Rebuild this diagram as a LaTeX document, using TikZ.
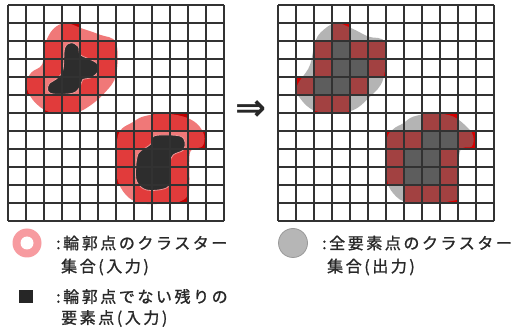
\documentclass[tikz,border=0pt]{standalone}
\usepackage{fontspec}
\newfontfamily\jpfont[LetterSpace=16,FakeBold=1.2]{Noto Sans CJK JP}
\newfontfamily\symfont{DejaVu Sans}
\definecolor{cellredL}{RGB}{192,0,0}
\definecolor{cellredR}{RGB}{215,0,0}
\definecolor{pinkblob}{RGB}{236,78,78}
\definecolor{darkblob}{RGB}{45,45,45}
\definecolor{blobline}{RGB}{240,150,150}
\definecolor{greyblob}{RGB}{120,120,120}
\definecolor{greycell}{RGB}{62,62,62}
\definecolor{gridc}{RGB}{50,50,50}
\definecolor{ringpink}{RGB}{247,155,160}
\definecolor{legendgrey}{RGB}{182,182,182}
\definecolor{txt}{RGB}{40,40,40}
\tikzset{
  gridline/.style={gridc, line width=1.2pt},
  legendtext/.style={anchor=west, inner sep=0pt, text=txt, font=\jpfont\fontsize{16}{19}\selectfont},
}
\begin{document}
\begin{tikzpicture}[x=1pt,y=-1pt]
\useasboundingbox (0,0) rectangle (520,331);
\fill[white] (0,0) rectangle (520,331);

% ---------- left grid (input) ----------
\begin{scope}[xshift=8pt,yshift=-5pt,x=18pt,y=-18pt]
  \foreach \c/\r in {3/1,2/2,4/2,5/2,2/3,5/3,1/4,4/4,2/5,3/5,
                     8/6,9/6,6/7,7/7,10/7,6/8,9/8,6/9,9/9,7/10,8/10,9/10}
    \fill[cellredL] (\c,\r) rectangle ++(1,1);
  % contour cluster blobs
  \fill[pinkblob, fill opacity=0.76] plot[smooth cycle, tension=0.6] coordinates {
    (3.2,1.0) (4.1,1.3) (5.1,1.65) (6.0,2.1) (6.0,3.9) (5.35,4.9) (4.4,5.7)
    (3.6,6.0) (2.3,5.95) (1.4,5.3) (1.0,4.4) (1.3,3.75) (1.9,3.3) (2.05,2.2) (2.5,1.35)};
  \fill[pinkblob, fill opacity=0.76] plot[smooth cycle, tension=0.6] coordinates {
    (6.35,6.85) (6.95,6.5) (7.5,6.2) (8.6,6.03) (9.75,6.2) (10.5,6.6) (10.9,7.25)
    (10.8,7.85) (10.3,8.0) (10.08,8.4) (10.05,10.3) (9.6,10.9) (8.4,11.05) (7.3,11.0)
    (6.55,10.55) (6.05,9.6) (6.0,8.2) (6.1,7.3)};
  % remaining element points
  \filldraw[fill=darkblob, draw=blobline, line width=0.8pt] plot[smooth cycle, tension=0.6] coordinates {
    (3.5,2.1) (3.15,2.4) (3.05,3.6) (2.7,4.1) (2.3,4.35) (2.2,4.75) (2.55,4.95)
    (3.6,4.9) (4.0,4.55) (4.15,4.15) (4.6,4.05) (5.0,3.7) (4.95,3.25) (4.4,2.95)
    (4.0,2.75) (3.9,2.3)};
  \filldraw[fill=darkblob, draw=blobline, line width=0.8pt] plot[smooth cycle, tension=0.6] coordinates {
    (8.07,7.3) (8.63,7.22) (9.56,7.28) (9.83,7.6) (9.74,8.06) (9.18,8.33) (9.0,8.8)
    (9.0,9.8) (8.72,10.2) (7.7,10.28) (7.15,9.8) (7.1,8.98) (7.24,8.24) (7.6,7.96)
    (7.98,7.68)};
  \foreach \i in {0,...,12} {
    \draw[gridline] (\i,0) -- (\i,12);
    \draw[gridline] (0,\i) -- (12,\i);
  }
\end{scope}

% ---------- arrow ----------
\node[inner sep=0pt, text=txt, font=\symfont\bfseries\fontsize{37}{37}\selectfont] (arr) at (251,111) {⇒};

% ---------- right grid (output) ----------
\begin{scope}[xshift=278pt,yshift=-5pt,x=18pt,y=-18pt]
  \foreach \c/\r in {3/2,3/3,4/3,2/4,3/4, 8/7,9/7,7/8,8/8,7/9,8/9}
    \fill[greycell] (\c,\r) rectangle ++(1,1);
  \foreach \c/\r in {3/1,2/2,4/2,5/2,2/3,5/3,1/4,4/4,2/5,3/5,
                     8/6,9/6,6/7,7/7,10/7,6/8,9/8,6/9,9/9,7/10,8/10,9/10}
    \fill[cellredR] (\c,\r) rectangle ++(1,1);
  \fill[greyblob, fill opacity=0.55] plot[smooth cycle, tension=0.6] coordinates {
    (3.2,1.0) (4.1,1.3) (5.0,1.75) (5.95,2.1) (5.85,4.1) (5.1,5.1) (4.0,5.9)
    (2.1,5.9) (1.1,5.0) (1.1,4.4) (1.75,3.4) (2.05,2.1) (2.4,1.5)};
  \fill[greyblob, fill opacity=0.55] plot[smooth cycle, tension=0.6] coordinates {
    (6.4,6.9) (6.96,6.57) (7.52,6.2) (8.63,6.02) (9.74,6.2) (10.57,6.85) (10.85,7.3)
    (10.76,7.87) (10.1,8.15) (10.0,10.46) (9.6,10.9) (7.33,11.0) (6.4,10.46)
    (6.04,9.54) (6.04,7.5)};
  \foreach \i in {0,...,12} {
    \draw[gridline] (\i,0) -- (\i,12);
    \draw[gridline] (0,\i) -- (12,\i);
  }
\end{scope}

% ---------- legend ----------
\fill[ringpink] (27,243) circle (14.5);
\fill[white] (27,243) circle (6.5);
\node[legendtext] (l1a) at (56,243) {:輪郭点のクラスター};
\node[legendtext] (l1b) at (61,267) {集合(入力)};
\fill[black!85] (19,290) rectangle (33,303);
\node[legendtext] (l2a) at (56,296.5) {:輪郭点でない残りの};
\node[legendtext] (l2b) at (61,318.5) {要素点(入力)};
\filldraw[fill=legendgrey, draw=black!40, line width=0.8pt] (293,243) circle (14.5);
\node[legendtext] (r1a) at (322,243) {:全要素点のクラスター};
\node[legendtext] (r1b) at (327,267) {集合(出力)};
\end{tikzpicture}
\end{document}
